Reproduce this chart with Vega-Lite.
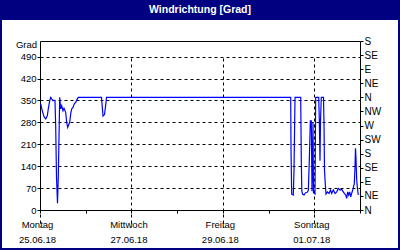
{
  "$schema": "https://vega.github.io/schema/vega-lite/v6.json",
  "width": 396,
  "height": 228,
  "autosize": {"type": "none"},
  "padding": {"left": 2, "right": 2, "top": 20, "bottom": 2},
  "background": "#000080",
  "config": {
    "view": {"fill": "white", "stroke": null},
    "font": "Liberation Sans"
  },
  "title": {
    "text": "Windrichtung [Grad]",
    "anchor": "middle",
    "frame": "group",
    "offset": 7,
    "dy": 10,
    "baseline": "alphabetic",
    "color": "white",
    "font": "Liberation Sans",
    "fontSize": 10.5,
    "fontWeight": "bold"
  },
  "data": {
    "values": [
      {"t": "2018-06-25T00:22", "v": 339},
      {"t": "2018-06-25T01:13", "v": 317},
      {"t": "2018-06-25T02:06", "v": 298},
      {"t": "2018-06-25T03:00", "v": 291},
      {"t": "2018-06-25T03:50", "v": 301},
      {"t": "2018-06-25T04:21", "v": 323},
      {"t": "2018-06-25T05:05", "v": 349},
      {"t": "2018-06-25T05:37", "v": 360},
      {"t": "2018-06-25T06:08", "v": 355},
      {"t": "2018-06-25T06:49", "v": 349},
      {"t": "2018-06-25T07:21", "v": 351},
      {"t": "2018-06-25T07:52", "v": 349},
      {"t": "2018-06-25T08:14", "v": 269},
      {"t": "2018-06-25T08:40", "v": 105},
      {"t": "2018-06-25T09:11", "v": 22},
      {"t": "2018-06-25T09:36", "v": 105},
      {"t": "2018-06-25T10:21", "v": 360},
      {"t": "2018-06-25T10:52", "v": 323},
      {"t": "2018-06-25T11:24", "v": 333},
      {"t": "2018-06-25T12:04", "v": 317},
      {"t": "2018-06-25T12:36", "v": 325},
      {"t": "2018-06-25T13:29", "v": 312},
      {"t": "2018-06-25T14:01", "v": 280},
      {"t": "2018-06-25T14:32", "v": 264},
      {"t": "2018-06-25T15:13", "v": 275},
      {"t": "2018-06-25T15:36", "v": 280},
      {"t": "2018-06-25T16:07", "v": 307},
      {"t": "2018-06-25T16:38", "v": 323},
      {"t": "2018-06-25T17:19", "v": 328},
      {"t": "2018-06-25T18:00", "v": 339},
      {"t": "2018-06-25T18:44", "v": 344},
      {"t": "2018-06-25T19:35", "v": 355},
      {"t": "2018-06-25T20:06", "v": 360},
      {"t": "2018-06-26T08:17", "v": 360},
      {"t": "2018-06-26T08:49", "v": 320},
      {"t": "2018-06-26T09:05", "v": 300},
      {"t": "2018-06-26T09:52", "v": 305},
      {"t": "2018-06-26T10:23", "v": 330},
      {"t": "2018-06-26T10:55", "v": 360},
      {"t": "2018-06-30T11:37", "v": 360},
      {"t": "2018-06-30T11:47", "v": 195},
      {"t": "2018-06-30T12:08", "v": 51},
      {"t": "2018-06-30T12:59", "v": 48},
      {"t": "2018-06-30T13:21", "v": 126},
      {"t": "2018-06-30T13:53", "v": 360},
      {"t": "2018-06-30T16:52", "v": 360},
      {"t": "2018-06-30T17:11", "v": 157},
      {"t": "2018-06-30T17:27", "v": 62},
      {"t": "2018-06-30T17:49", "v": 51},
      {"t": "2018-06-30T18:36", "v": 48},
      {"t": "2018-06-30T19:23", "v": 55},
      {"t": "2018-06-30T20:11", "v": 56},
      {"t": "2018-06-30T20:52", "v": 62},
      {"t": "2018-06-30T21:23", "v": 157},
      {"t": "2018-06-30T21:55", "v": 285},
      {"t": "2018-06-30T22:26", "v": 285},
      {"t": "2018-06-30T22:48", "v": 60},
      {"t": "2018-06-30T23:20", "v": 280},
      {"t": "2018-06-30T23:35", "v": 55},
      {"t": "2018-07-01T00:23", "v": 51},
      {"t": "2018-07-01T00:44", "v": 360},
      {"t": "2018-07-01T02:19", "v": 360},
      {"t": "2018-07-01T02:38", "v": 291},
      {"t": "2018-07-01T03:00", "v": 157},
      {"t": "2018-07-01T03:16", "v": 285},
      {"t": "2018-07-01T03:41", "v": 360},
      {"t": "2018-07-01T04:50", "v": 360},
      {"t": "2018-07-01T05:06", "v": 275},
      {"t": "2018-07-01T05:22", "v": 126},
      {"t": "2018-07-01T05:47", "v": 83},
      {"t": "2018-07-01T06:09", "v": 51},
      {"t": "2018-07-01T06:56", "v": 58},
      {"t": "2018-07-01T07:44", "v": 53},
      {"t": "2018-07-01T08:31", "v": 64},
      {"t": "2018-07-01T09:08", "v": 53},
      {"t": "2018-07-01T09:59", "v": 64},
      {"t": "2018-07-01T10:53", "v": 53},
      {"t": "2018-07-01T11:46", "v": 58},
      {"t": "2018-07-01T12:37", "v": 69},
      {"t": "2018-07-01T13:30", "v": 64},
      {"t": "2018-07-01T14:23", "v": 66},
      {"t": "2018-07-01T15:14", "v": 58},
      {"t": "2018-07-01T15:46", "v": 53},
      {"t": "2018-07-01T16:29", "v": 48},
      {"t": "2018-07-01T17:01", "v": 37},
      {"t": "2018-07-01T17:32", "v": 58},
      {"t": "2018-07-01T18:04", "v": 48},
      {"t": "2018-07-01T18:35", "v": 58},
      {"t": "2018-07-01T19:07", "v": 42},
      {"t": "2018-07-01T19:38", "v": 53},
      {"t": "2018-07-01T20:10", "v": 64},
      {"t": "2018-07-01T20:35", "v": 74},
      {"t": "2018-07-01T21:01", "v": 85},
      {"t": "2018-07-01T21:23", "v": 138},
      {"t": "2018-07-01T21:38", "v": 197},
      {"t": "2018-07-01T21:54", "v": 165},
      {"t": "2018-07-01T22:16", "v": 96},
      {"t": "2018-07-01T22:35", "v": 74},
      {"t": "2018-07-01T22:51", "v": 60},
      {"t": "2018-07-01T23:07", "v": 48}
    ]
  },
  "layer": [
    {
      "mark": {"type": "line", "color": "#0000ff", "strokeWidth": 1.2},
      "encoding": {
        "x": {
          "field": "t",
          "type": "temporal",
          "scale": {
            "domain": [
              {"year": 2018, "month": 6, "date": 25},
              {"year": 2018, "month": 7, "date": 2}
            ],
            "range": [38, 358],
            "nice": false
          },
          "axis": {
            "orient": "bottom",
            "offset": -38,
            "title": null,
            "values": [
              {"year": 2018, "month": 6, "date": 25},
              {"year": 2018, "month": 6, "date": 26},
              {"year": 2018, "month": 6, "date": 27},
              {"year": 2018, "month": 6, "date": 28},
              {"year": 2018, "month": 6, "date": 29},
              {"year": 2018, "month": 6, "date": 30},
              {"year": 2018, "month": 7, "date": 1},
              {"year": 2018, "month": 7, "date": 2}
            ],
            "labelExpr": "date(datum.value) % 2 == 1 ? [['Sonntag','Montag','Dienstag','Mittwoch','Donnerstag','Freitag','Samstag'][day(datum.value)], timeFormat(datum.value, '%d.%m.%y')] : ''",
            "labelFont": "Liberation Sans",
            "labelFontSize": 9.5,
            "labelColor": "black",
            "labelAngle": 0,
            "labelAlign": "center",
            "labelBaseline": "top",
            "labelLineHeight": 15,
            "labelPadding": 6,
            "labelOffset": -3,
            "labelFlush": false,
            "labelOverlap": false,
            "labelBound": false,
            "ticks": true,
            "tickSize": 3,
            "tickColor": "black",
            "domain": true,
            "domainColor": "black",
            "domainWidth": 1,
            "grid": true,
            "gridColor": "black",
            "gridWidth": 1,
            "gridDash": [3, 3],
            "gridOpacity": {"condition": {"test": "date(datum.value) % 2 == 1", "value": 1}, "value": 0}
          }
        },
        "y": {
          "field": "v",
          "type": "quantitative",
          "scale": {"domain": [0, 540], "range": [190, 21], "nice": false, "zero": true},
          "axis": {
            "orient": "left",
            "offset": -38,
            "values": [0, 70, 140, 210, 280, 350, 420, 490],
            "labelFont": "Liberation Sans",
            "labelFontSize": 9.5,
            "labelColor": "black",
            "labelPadding": 1,
            "labelBaseline": "middle",
            "labelFlush": false,
            "labelOverlap": false,
            "ticks": true,
            "tickSize": 3,
            "tickColor": "black",
            "domain": true,
            "domainColor": "black",
            "domainWidth": 1,
            "grid": true,
            "gridColor": "black",
            "gridWidth": 1,
            "gridDash": [3, 3],
            "title": "Grad",
            "titleAngle": 0,
            "titleAlign": "right",
            "titleBaseline": "middle",
            "titleX": -3.5,
            "titleY": 24.5,
            "titleFont": "Liberation Sans",
            "titleFontSize": 9.5,
            "titleFontWeight": "normal",
            "titleColor": "black"
          }
        }
      }
    },
    {
      "mark": {"type": "line", "opacity": 0},
      "encoding": {
        "x": {
          "field": "t",
          "type": "temporal",
          "axis": {
            "orient": "top",
            "offset": -21,
            "title": null,
            "labels": false,
            "ticks": false,
            "grid": false,
            "domain": true,
            "domainColor": "black",
            "domainWidth": 1
          }
        },
        "y": {
          "field": "v",
          "type": "quantitative",
          "axis": {
            "orient": "right",
            "offset": -38,
            "title": null,
            "values": [0, 45, 90, 135, 180, 225, 270, 315, 360, 405, 450, 495, 540],
            "labelExpr": "['N','NE','E','SE','S','SW','W','NW'][(datum.value % 360) / 45]",
            "labelFont": "Liberation Sans",
            "labelFontSize": 10,
            "labelColor": "black",
            "labelPadding": 1,
            "labelBaseline": "middle",
            "labelFlush": false,
            "labelOverlap": false,
            "ticks": true,
            "tickSize": 3,
            "tickColor": "black",
            "grid": false,
            "domain": true,
            "domainColor": "black",
            "domainWidth": 1
          }
        }
      }
    }
  ],
  "resolve": {"axis": {"x": "independent", "y": "independent"}}
}
